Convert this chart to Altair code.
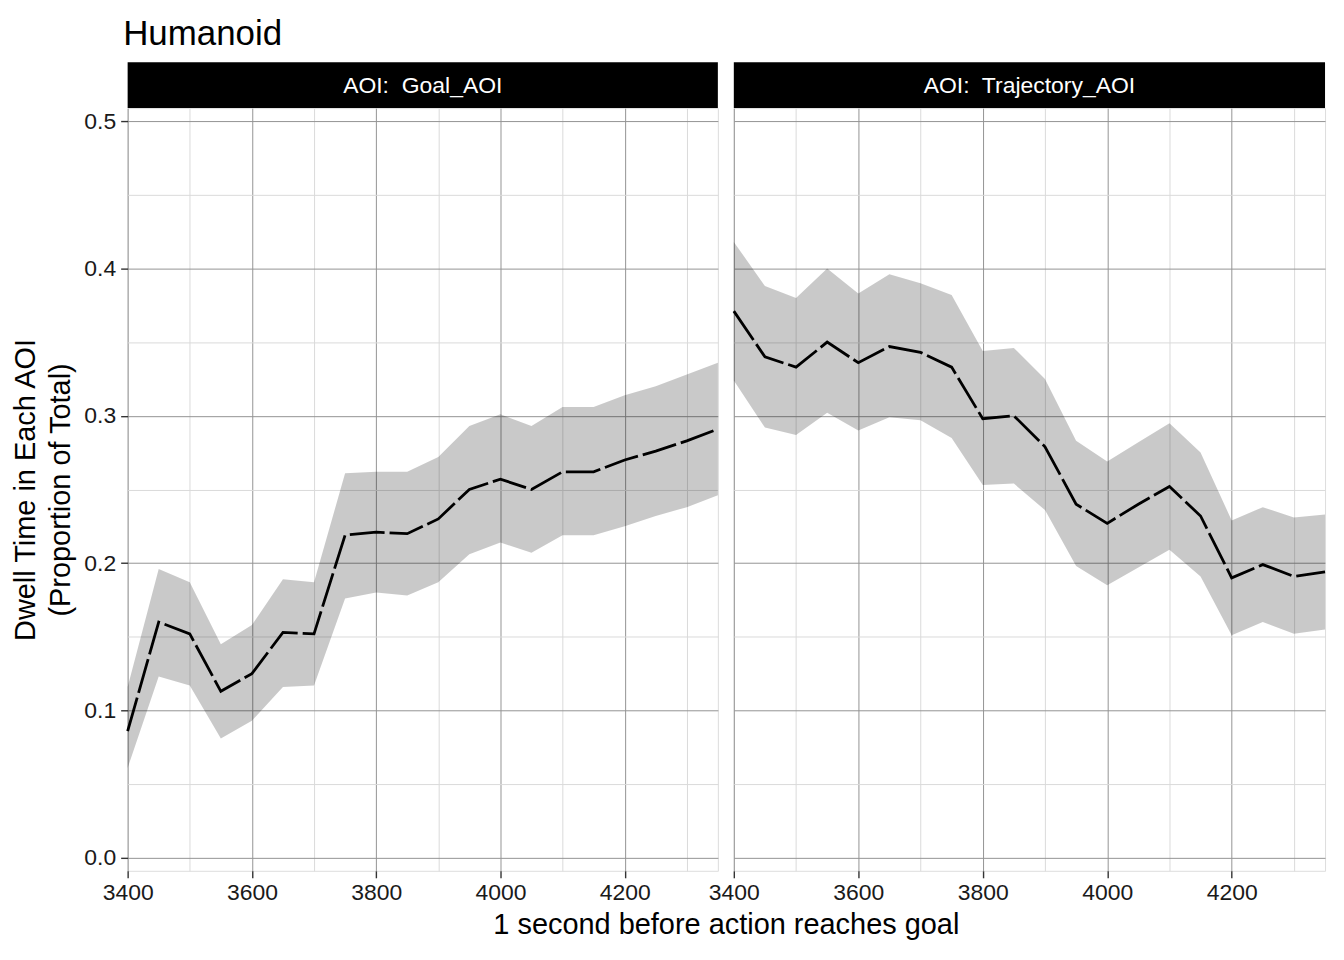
import altair as alt
import pandas as pd

times = [3400, 3450, 3500, 3550, 3600, 3650, 3700, 3750, 3800, 3850,
         3900, 3950, 4000, 4050, 4100, 4150, 4200, 4250, 4300, 4350]

goal_mean = [0.086, 0.160, 0.152, 0.113, 0.125, 0.153, 0.152, 0.219, 0.221, 0.220,
             0.230, 0.250, 0.257, 0.250, 0.262, 0.262, 0.270, 0.276, 0.283, 0.291]
goal_lo = [0.061, 0.123, 0.117, 0.081, 0.093, 0.116, 0.117, 0.176, 0.180, 0.178,
           0.187, 0.206, 0.214, 0.207, 0.219, 0.219, 0.225, 0.232, 0.238, 0.246]
goal_hi = [0.116, 0.196, 0.187, 0.145, 0.158, 0.189, 0.187, 0.261, 0.262, 0.262,
           0.272, 0.293, 0.301, 0.293, 0.306, 0.306, 0.314, 0.320, 0.328, 0.336]

traj_mean = [0.371, 0.340, 0.333, 0.350, 0.336, 0.347, 0.343, 0.333, 0.298, 0.300,
             0.279, 0.240, 0.227, 0.240, 0.252, 0.232, 0.190, 0.199, 0.191, 0.194]
traj_lo = [0.324, 0.292, 0.287, 0.302, 0.290, 0.299, 0.297, 0.285, 0.253, 0.254,
           0.236, 0.198, 0.185, 0.197, 0.209, 0.191, 0.151, 0.160, 0.152, 0.155]
traj_hi = [0.418, 0.388, 0.380, 0.400, 0.383, 0.396, 0.390, 0.382, 0.344, 0.346,
           0.325, 0.283, 0.269, 0.282, 0.295, 0.275, 0.229, 0.238, 0.231, 0.233]

panels = ["Goal_AOI", "Trajectory_AOI"]
x_grid = [3400, 3500, 3600, 3700, 3800, 3900, 4000, 4100, 4200, 4300]
y_grid = [0.0, 0.05, 0.1, 0.15, 0.2, 0.25, 0.3, 0.35, 0.4, 0.45, 0.5]

FONT = "Liberation Sans"
PW_L, PW_R, PH = 592, 593, 765
STRIP_H = 46

major_x = "datum.value % 200 === 0"
major_y = "abs(datum.value * 10 - round(datum.value * 10)) < 0.001"


def x_axis(show_title, width):
    kw = dict(
        values=x_grid, format="d",
        labelExpr=f"{major_x} ? datum.label : ''",
        labelFlush=False, labelOverlap=False,
        labelFontSize=23, labelColor="#1a1a1a", labelFont=FONT, labelPadding=4,
        tickSize=7, tickWidth=1.4, tickColor="#333333",
        tickOpacity={"condition": {"test": major_x, "value": 1}, "value": 0},
        grid=True, gridWidth=1,
        gridColor={"condition": {"test": major_x, "value": "#949494"}, "value": "#dadada"},
        domain=False,
        titleFontSize=29, titleFontWeight="normal", titleFont=FONT, titleColor="black",
        titlePadding=6,
    )
    if show_title:
        kw["title"] = "1 second before action reaches goal"
        kw["titleX"] = 600
    else:
        kw["title"] = None
    return alt.Axis(**kw)


def y_axis(show):
    kw = dict(
        values=y_grid, format=".1f",
        labelExpr=f"{major_y} ? datum.label : ''",
        labelFlush=False, labelOverlap=False,
        labelFontSize=23, labelColor="#1a1a1a", labelFont=FONT, labelPadding=5,
        grid=True, gridWidth=1,
        gridColor={"condition": {"test": major_y, "value": "#949494"}, "value": "#dadada"},
        domain=False,
        titleFontSize=29, titleFontWeight="normal", titleFont=FONT, titleColor="black",
        titleLineHeight=35, titlePadding=8,
    )
    if show:
        kw.update(
            title=["Dwell Time in Each AOI", "(Proportion of Total)"],
            tickSize=7, tickWidth=1.4, tickColor="#333333",
            tickOpacity={"condition": {"test": major_y, "value": 1}, "value": 0},
        )
    else:
        kw.update(title=None, labels=False, ticks=False)
    return alt.Axis(**kw)


def panel(name, mean, lo, hi, width, first):
    df = pd.DataFrame({"t": times, "mean": mean, "lo": lo, "hi": hi})
    xs = alt.Scale(domain=[3400, 4350], nice=False, zero=False)
    ys = alt.Scale(domain=[-0.0088, 0.5088], nice=False, zero=False)
    base = alt.Chart(df)
    ribbon = base.mark_area(color="black", opacity=0.21).encode(
        x=alt.X("t:Q", scale=xs, axis=x_axis(first, width)),
        y=alt.Y("lo:Q", scale=ys, axis=y_axis(first)),
        y2="hi:Q",
    )
    line = base.mark_line(color="black", strokeWidth=2.8, strokeDash=[35, 5]).encode(
        x="t:Q", y="mean:Q"
    )
    sdf = pd.DataFrame({"label": [f"AOI:\u00a0 {name}"]})
    strip = alt.Chart(sdf).mark_rect(color="black").encode(
        x=alt.value(0), x2=alt.value(width),
        y=alt.value(-STRIP_H), y2=alt.value(0),
    )
    stext = alt.Chart(sdf).mark_text(
        color="white", fontSize=23, font=FONT, baseline="middle", align="center"
    ).encode(text="label:N", x=alt.value(width / 2), y=alt.value(-STRIP_H / 2 + 1))
    return alt.layer(ribbon, line, strip, stext).properties(width=width, height=PH)


left = panel(panels[0], goal_mean, goal_lo, goal_hi, PW_L, True)
right = panel(panels[1], traj_mean, traj_lo, traj_hi, PW_R, False)

chart = alt.hconcat(left, right, spacing=16, bounds="flush").properties(
    title=alt.Title("Humanoid", anchor="start", fontSize=35, fontWeight="normal",
                    font=FONT, color="black", dx=112, offset=10),
    padding={"left": 3, "top": 7, "right": 4, "bottom": 0},
).configure_view(
    stroke="#111111", strokeWidth=1.6
).configure(font=FONT)

chart.save("out.html", embed_options={"renderer": "svg", "actions": False})
